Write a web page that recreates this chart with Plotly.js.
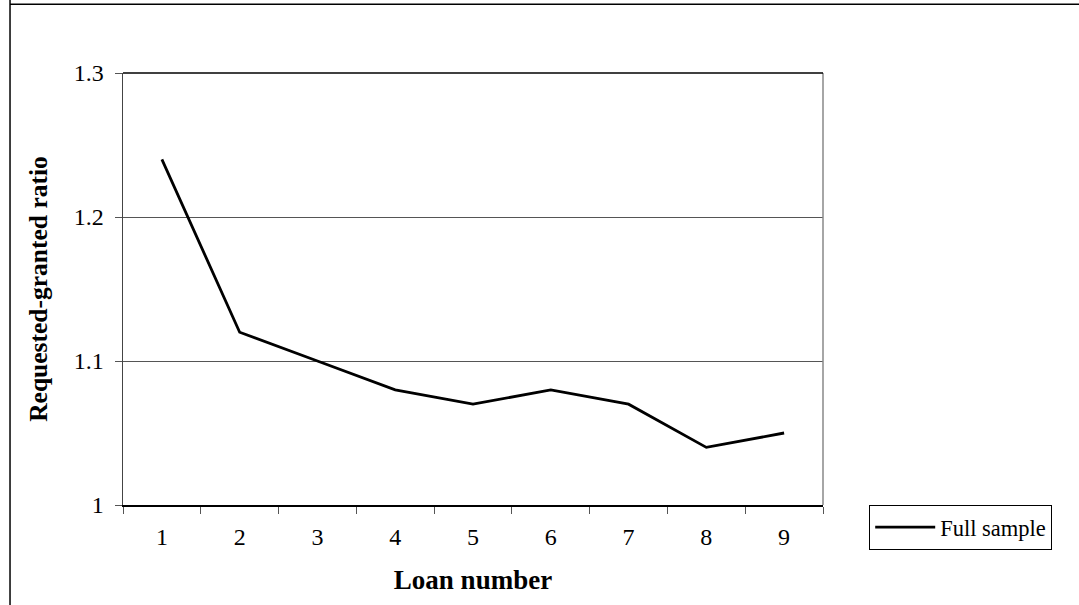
<!DOCTYPE html>
<html>
<head>
<meta charset="utf-8">
<script src="https://cdn.plot.ly/plotly-3.0.1.min.js"></script>
<style>html,body{margin:0;padding:0;background:#fff;}#chart{width:1079px;height:605px;}</style>
</head>
<body>
<div id="chart"></div>
<script>
const loanNumbers = ['1','2','3','4','5','6','7','8','9'];
const fullSample = [1.24, 1.12, 1.10, 1.08, 1.07, 1.08, 1.07, 1.04, 1.05];
const yTicks = [1, 1.1, 1.2, 1.3];
const yTickLabels = ['1', '1.1', '1.2', '1.3'];

const font = 'Liberation Serif, Times New Roman, serif';

const trace = {
  x: loanNumbers,
  y: fullSample,
  type: 'scatter',
  mode: 'lines',
  name: 'Full sample',
  line: {color: '#000', width: 2.8},
  hoverinfo: 'x+y'
};

const layout = {
  width: 1079, height: 605,
  margin: {l: 123, r: 256, t: 73, b: 100},
  paper_bgcolor: '#fff', plot_bgcolor: '#fff',
  font: {family: font, color: '#000', size: 20},
  showlegend: true,
  legend: {
    x: 1.066, y: 0, xanchor: 'left', yanchor: 'top',
    bordercolor: '#000', borderwidth: 1,
    font: {family: font, size: 22.5, color: '#000'},
    itemwidth: 60
  },
  xaxis: {
    type: 'category',
    range: [-0.5, 8.5],
    tickson: 'boundaries',
    ticks: 'outside', ticklen: 7, tickcolor: '#555', tickwidth: 1,
    ticklabelstandoff: 10,
    showline: true, linecolor: '#000', linewidth: 1.5,
    showgrid: false, zeroline: false,
    tickfont: {family: font, size: 24, color: '#000'},
    title: {text: '<b>Loan number</b>', font: {family: font, size: 27, color: '#000'}, standoff: 21},
    fixedrange: true
  },
  yaxis: {
    range: [1, 1.3],
    tickvals: yTicks, ticktext: yTickLabels,
    ticks: 'outside', ticklen: 7, tickcolor: '#555', tickwidth: 1,
    ticklabelstandoff: 6,
    showline: true, linecolor: '#444', linewidth: 1.5,
    showgrid: true, gridcolor: '#555', gridwidth: 1,
    zeroline: false,
    tickfont: {family: font, size: 24, color: '#000'},
    title: {text: '<b>Requested-granted ratio</b>', font: {family: font, size: 25.5, color: '#000'}, standoff: 19},
    fixedrange: true
  },
  shapes: [
    {type: 'line', xref: 'paper', yref: 'paper', x0: 1, x1: 1, y0: 0, y1: 1, line: {color: '#888', width: 1.5}},
    {type: 'line', xref: 'paper', yref: 'paper', x0: 0, x1: 1, y0: 1, y1: 1, line: {color: '#000', width: 1.5}},
    {type: 'line', xref: 'paper', yref: 'paper', x0: -0.1614, x1: -0.1614, y0: 1.2, y1: -0.3, line: {color: '#000', width: 1.5}},
    {type: 'line', xref: 'paper', yref: 'paper', x0: -0.1614, x1: 1.4, y0: 1.1593, y1: 1.1593, line: {color: '#000', width: 1.5}}
  ]
};

Plotly.newPlot('chart', [trace], layout, {displayModeBar: false, staticPlot: true});
</script>
</body>
</html>
